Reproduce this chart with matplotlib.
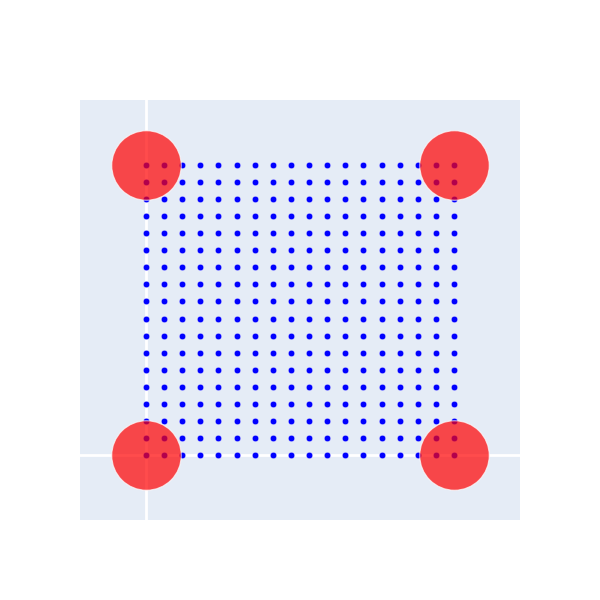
import numpy as np
import matplotlib.pyplot as plt

# grid of points
xs = np.arange(0, 18, 1)
ys = np.arange(0, 18, 1)
# big corner markers
corner_x = [0, 17, 0, 17]
corner_y = [0, 0, 17, 17]

gx, gy = np.meshgrid(xs, ys)

fig = plt.figure(figsize=(6, 6), dpi=100)
ax = fig.add_axes([80/600, 80/600, 440/600, 420/600])
ax.set_facecolor('#E5ECF6')

# zero lines
ax.axvline(0, color='white', linewidth=2, zorder=1)
ax.axhline(0, color='white', linewidth=2, zorder=1)

ax.scatter(gx.ravel(), gy.ravel(), s=22, color='blue', edgecolors='white',
           linewidths=0.3, zorder=2)
ax.scatter(corner_x, corner_y, s=2500, color='red', alpha=0.7,
           edgecolors='white', linewidths=0.8, zorder=3)

ax.set_xlim(-3.64, 20.64)
ax.set_ylim(-3.8, 20.8)
ax.set_xticks([])
ax.set_yticks([])
for sp in ax.spines.values():
    sp.set_visible(False)

fig.savefig('out.png', dpi=100)
